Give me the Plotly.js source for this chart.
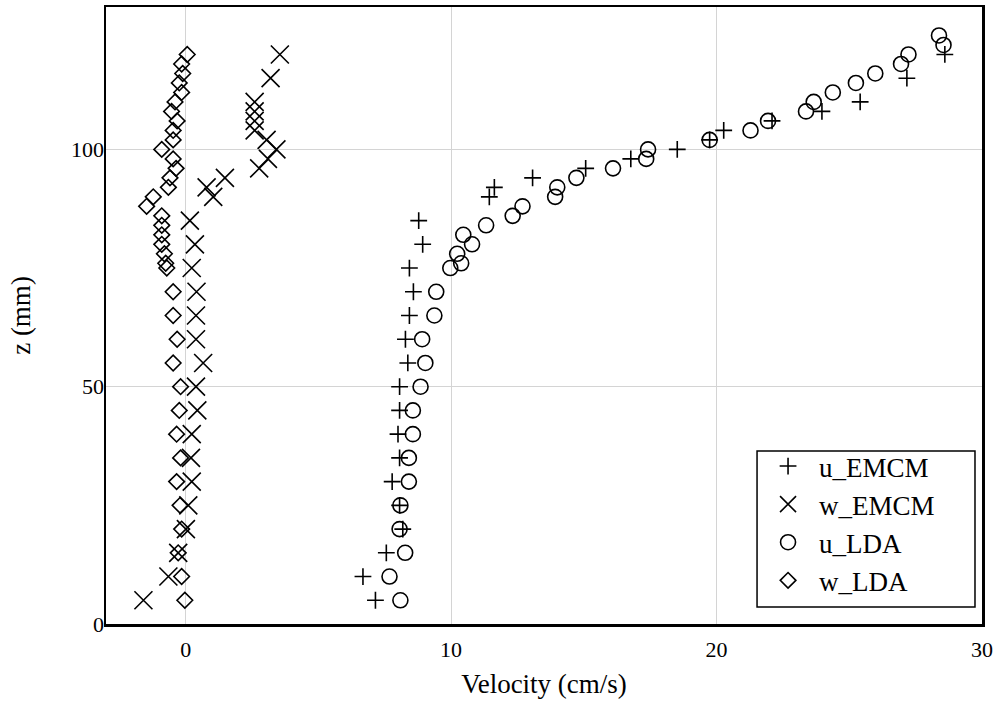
<!DOCTYPE html>
<html>
<head>
<meta charset="utf-8">
<script src="https://cdn.plot.ly/plotly-3.0.1.min.js"></script>
<style>html,body{margin:0;padding:0;background:#fff;}#chart{width:1005px;height:728px;}</style>
</head>
<body>
<div id="chart"></div>
<script>
// u_EMCM (+)
const uEmcmX = [7.15, 6.68, 7.56, 8.18, 8.06, 7.78, 8.06, 8.0, 8.06, 8.06, 8.37, 8.28, 8.43, 8.58, 8.43, 8.93, 8.78, 11.44, 11.63, 13.07, 15.07, 16.77, 18.52, 19.74, 20.27, 22.09, 23.97, 25.41, 27.17, 28.6];
const uEmcmZ = [5, 10, 15, 20, 25, 30, 35, 40, 45, 50, 55, 60, 65, 70, 75, 80, 85, 90, 92, 94, 96, 98, 100, 102, 104, 106, 108, 110, 115, 120];
// w_EMCM (x)
const wEmcmX = [-1.59, -0.65, -0.28, 0.01, 0.1, 0.23, 0.2, 0.23, 0.44, 0.39, 0.66, 0.39, 0.39, 0.41, 0.23, 0.35, 0.16, 1.04, 0.79, 1.48, 2.77, 3.1, 3.42, 3.05, 2.6, 2.6, 2.6, 2.6, 3.2, 3.55];
const wEmcmZ = [5, 10, 15, 20, 25, 30, 35, 40, 45, 50, 55, 60, 65, 70, 75, 80, 85, 90, 92, 94, 96, 98, 100, 102, 104, 106, 108, 110, 115, 120];
// u_LDA (o)
const uLdaX = [8.09, 7.68, 8.27, 8.06, 8.09, 8.41, 8.41, 8.56, 8.56, 8.85, 9.03, 8.91, 9.37, 9.44, 9.97, 10.38, 10.23, 10.79, 10.46, 11.32, 12.32, 12.69, 13.92, 14.0, 14.72, 16.1, 17.35, 17.42, 19.74, 21.28, 21.94, 23.37, 23.66, 24.38, 25.25, 25.98, 26.95, 27.23, 28.55, 28.38];
const uLdaZ = [5, 10, 15, 20, 25, 30, 35, 40, 45, 50, 55, 60, 65, 70, 75, 76, 78, 80, 82, 84, 86, 88, 90, 92, 94, 96, 98, 100, 102, 104, 106, 108, 110, 112, 114, 116, 118, 120, 122, 124];
// w_LDA (diamond)
const wLdaX = [-0.03, -0.15, -0.28, -0.15, -0.21, -0.34, -0.19, -0.34, -0.24, -0.19, -0.47, -0.32, -0.47, -0.47, -0.71, -0.75, -0.8, -0.9, -0.9, -0.9, -0.9, -1.47, -1.22, -0.65, -0.59, -0.36, -0.47, -0.9, -0.47, -0.47, -0.32, -0.53, -0.4, -0.15, -0.24, -0.11, -0.15, 0.06];
const wLdaZ = [5, 10, 15, 20, 25, 30, 35, 40, 45, 50, 55, 60, 65, 70, 75, 76, 78, 80, 82, 84, 86, 88, 90, 92, 94, 96, 98, 100, 102, 104, 106, 108, 110, 112, 114, 116, 118, 120];

const xTicks = [0, 10, 20, 30];
const yTicks = [0, 50, 100];

const FONT = 'Liberation Serif, DejaVu Serif, serif';
const lw = 1.6;

const traces = [
  {x: uEmcmX, y: uEmcmZ, name: 'u_EMCM', legendgroup: 'a', mode: 'markers', type: 'scatter',
   marker: {symbol: 'cross-thin-open', size: 12, color: 'black', line: {color: 'black', width: lw}}},
  {x: wEmcmX, y: wEmcmZ, name: 'w_EMCM', legendgroup: 'b', mode: 'markers', type: 'scatter',
   marker: {symbol: 'x-thin-open', size: 18, color: 'black', line: {color: 'black', width: lw}}},
  {x: uLdaX, y: uLdaZ, name: 'u_LDA', legendgroup: 'c', mode: 'markers', type: 'scatter',
   marker: {symbol: 'circle-open', size: 15, color: 'black', line: {color: 'black', width: lw}}},
  {x: wLdaX, y: wLdaZ, name: 'w_LDA', legendgroup: 'd', mode: 'markers', type: 'scatter',
   marker: {symbol: 'diamond-open', size: 12, color: 'black', line: {color: 'black', width: lw}}}
];

const layout = {
  width: 1005, height: 728,
  margin: {l: 106, r: 23, t: 7, b: 104},
  paper_bgcolor: '#fff', plot_bgcolor: '#fff',
  font: {family: FONT, color: 'black', size: 22},
  showlegend: true,
  legend: {
    x: 0.7432, xanchor: 'left', y: 0.295, yanchor: 'top',
    bgcolor: 'rgba(0,0,0,0)', borderwidth: 0,
    font: {family: FONT, size: 27, color: 'black'},
    traceorder: 'grouped', tracegroupgap: 0, itemwidth: 52
  },
  shapes: [
    {type: 'rect', xref: 'paper', yref: 'paper', x0: 0.7432, x1: 0.992, y0: 0.0276, y1: 0.2804,
     line: {color: 'black', width: 1.5}, fillcolor: '#fff', layer: 'above'}
  ],
  xaxis: {
    range: [-3, 30], tickvals: xTicks, ticktext: xTicks.map(String),
    showline: true, mirror: true, linecolor: 'black', linewidth: 2.5,
    showgrid: true, gridcolor: '#d4d4d4', gridwidth: 1, zeroline: false,
    ticks: '', ticklabelstandoff: 4,
    tickfont: {family: FONT, size: 22},
    title: {text: 'Velocity (cm/s)', font: {family: FONT, size: 27}, standoff: 13}
  },
  yaxis: {
    range: [0, 130], tickvals: yTicks, ticktext: yTicks.map(String),
    showline: true, mirror: true, linecolor: 'black', linewidth: 2.5,
    showgrid: true, gridcolor: '#d4d4d4', gridwidth: 1, zeroline: false,
    ticks: '', ticklabelstandoff: -5,
    tickfont: {family: FONT, size: 22},
    title: {text: 'z (mm)', font: {family: FONT, size: 27}, standoff: 33}
  }
};

Plotly.newPlot('chart', traces, layout, {displayModeBar: false, staticPlot: true});
</script>
</body>
</html>
